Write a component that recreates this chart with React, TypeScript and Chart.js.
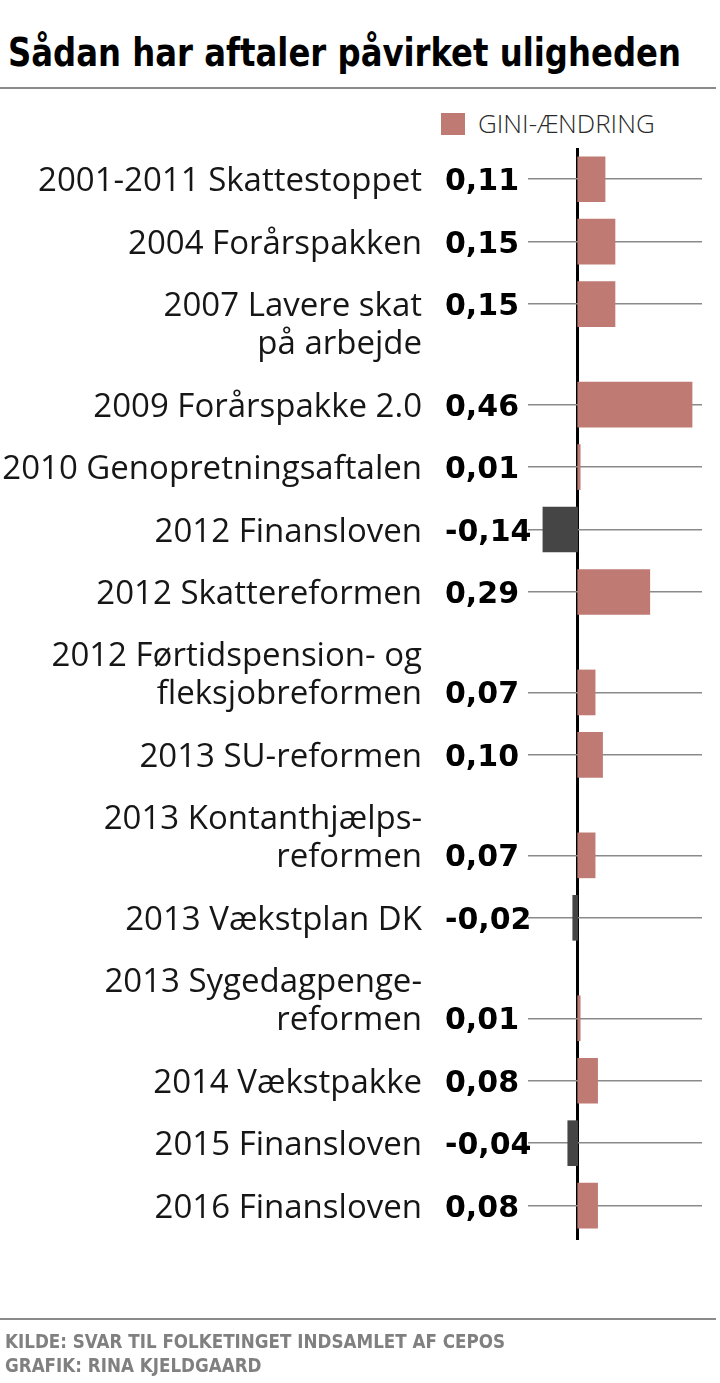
import React, { useEffect, useRef } from "react";
import { Chart, registerables } from "chart.js";

Chart.register(...registerables);

// ---- data ----
const categories: string[][] = [
  ["2001-2011 Skattestoppet"],
  ["2004 Forårspakken"],
  ["2007 Lavere skat", "på arbejde"],
  ["2009 Forårspakke 2.0"],
  ["2010 Genopretningsaftalen"],
  ["2012 Finansloven"],
  ["2012 Skattereformen"],
  ["2012 Førtidspension- og", "fleksjobreformen"],
  ["2013 SU-reformen"],
  ["2013 Kontanthjælps-", "reformen"],
  ["2013 Vækstplan DK"],
  ["2013 Sygedagpenge-", "reformen"],
  ["2014 Vækstpakke"],
  ["2015 Finansloven"],
  ["2016 Finansloven"],
];
// which line of the label the bar / value sits on
const valueLine: number[] = [0, 0, 0, 0, 0, 0, 0, 1, 0, 1, 0, 1, 0, 0, 0];
const giniChange: number[] = [
  0.11, 0.15, 0.15, 0.46, 0.01, -0.14, 0.29, 0.07, 0.1, 0.07, -0.02, 0.01, 0.08, -0.04, 0.08,
];
const seriesName = "GINI-ÆNDRING";
const title = "Sådan har aftaler påvirket uligheden";
const sourceLines = ["KILDE: SVAR TIL FOLKETINGET INDSAMLET AF CEPOS", "GRAFIK: RINA KJELDGAARD"];

const POS_COLOR = "#bf7a73";
const NEG_COLOR = "#454545";

// row layout in index-axis units (one unit = one row pitch)
const LINE_STEP = 0.608;
const rowTop: number[] = [];
const rowBar: number[] = [];
{
  let pos = 0;
  categories.forEach((lines, i) => {
    rowTop.push(pos);
    rowBar.push(pos + valueLine[i] * LINE_STEP);
    pos = pos + (lines.length - 1) * LINE_STEP + 1;
  });
}
const lastBottom = rowTop[rowTop.length - 1] + (categories[categories.length - 1].length - 1) * LINE_STEP;

const fmt = (v: number) => v.toFixed(2).replace(".", ",");

const labelPlugin = {
  id: "rowLabels",
  afterDraw(chart: any) {
    const ctx = chart.ctx as CanvasRenderingContext2D;
    const y = chart.scales.y;
    ctx.save();
    categories.forEach((lines, i) => {
      const top = y.getPixelForValue(rowTop[i]);
      const lineH = y.getPixelForValue(rowTop[i] + LINE_STEP) - top;
      ctx.font = '33px "Open Sans"';
      ctx.fillStyle = "#161616";
      ctx.textAlign = "right";
      ctx.textBaseline = "alphabetic";
      lines.forEach((t, k) => {
        ctx.fillText(t, 422, top + k * lineH + 12);
      });
      const bp = y.getPixelForValue(rowBar[i]);
      ctx.font = 'bold 30px "DejaVu Sans"';
      ctx.fillStyle = "#000";
      ctx.textAlign = "left";
      ctx.fillText(fmt(giniChange[i]), 445, bp + 11);
    });
    ctx.restore();
  },
};

export default function App() {
  const ref = useRef<HTMLCanvasElement | null>(null);

  useEffect(() => {
    document.body.style.margin = "0";
    if (!ref.current) return;
    const chart = new Chart(ref.current, {
      type: "bar",
      data: {
        datasets: [
          {
            label: seriesName,
            data: giniChange.map((v, i) => ({ x: v, y: rowBar[i] })),
            backgroundColor: giniChange.map((v) => (v < 0 ? NEG_COLOR : POS_COLOR)),
            barThickness: 45,
            borderWidth: 0,
          } as any,
        ],
      },
      options: {
        indexAxis: "y",
        animation: false,
        responsive: true,
        maintainAspectRatio: false,
        layout: { padding: { left: 528, right: 18, top: 148, bottom: 143 } },
        plugins: { legend: { display: false }, tooltip: { enabled: false }, title: { display: false } },
        scales: {
          x: {
            type: "linear",
            min: -0.2,
            max: 0.5,
            z: 1,
            offset: false,
            ticks: { display: false, stepSize: 0.1 },
            border: { display: false },
            grid: {
              drawTicks: false,
              offset: false,
              lineWidth: 3,
              color: (c: any) => (c.tick && Math.abs(c.tick.value) < 1e-9 ? "#000" : "rgba(0,0,0,0)"),
            },
          },
          y: {
            type: "linear",
            reverse: true,
            offset: false,
            min: -0.5,
            max: lastBottom + 0.55,
            afterBuildTicks: (scale: any) => {
              scale.ticks = rowBar.map((v) => ({ value: v }));
            },
            ticks: { display: false },
            border: { display: false },
            grid: { drawTicks: false, offset: false, color: "#8a8a8a", lineWidth: 1.5 },
          },
        },
      },
      plugins: [labelPlugin],
    });
    return () => chart.destroy();
  }, []);

  return (
    <div style={{ position: "relative", width: 720, height: 1383, background: "#fff", overflow: "hidden" }}>
      <div
        style={{
          position: "absolute",
          left: 8,
          top: 33,
          font: 'bold 38.5px "DejaVu Sans Condensed", "DejaVu Sans"',
          fontStretch: "condensed",
          lineHeight: "40px",
          color: "#000",
          whiteSpace: "nowrap",
          transform: "scaleX(0.933)",
          transformOrigin: "0 0",
        }}
      >
        {title}
      </div>
      <div style={{ position: "absolute", left: 0, top: 87, width: 716, height: 2, background: "#8a8a8a" }} />
      <div style={{ position: "absolute", left: 441, top: 113, width: 24, height: 22, background: POS_COLOR }} />
      <div
        style={{
          position: "absolute",
          left: 478,
          top: 107,
          font: '300 26px "Open Sans"',
          lineHeight: "32px",
          color: "#2a2a2a",
          whiteSpace: "nowrap",
        }}
      >
        {seriesName}
      </div>
      <div style={{ position: "absolute", left: 0, top: 0, width: 720, height: 1383 }}>
        <canvas ref={ref} />
      </div>
      <div style={{ position: "absolute", left: 0, top: 1318, width: 716, height: 2, background: "#8a8a8a" }} />
      <div
        style={{
          position: "absolute",
          left: 5,
          top: 1329,
          font: 'bold 19px "DejaVu Sans Condensed", "DejaVu Sans"',
          fontStretch: "condensed",
          lineHeight: "24px",
          color: "#808080",
          whiteSpace: "nowrap",
          transform: "scaleX(0.98)",
          transformOrigin: "0 0",
        }}
      >
        {sourceLines.map((s) => (
          <div key={s}>{s}</div>
        ))}
      </div>
    </div>
  );
}
